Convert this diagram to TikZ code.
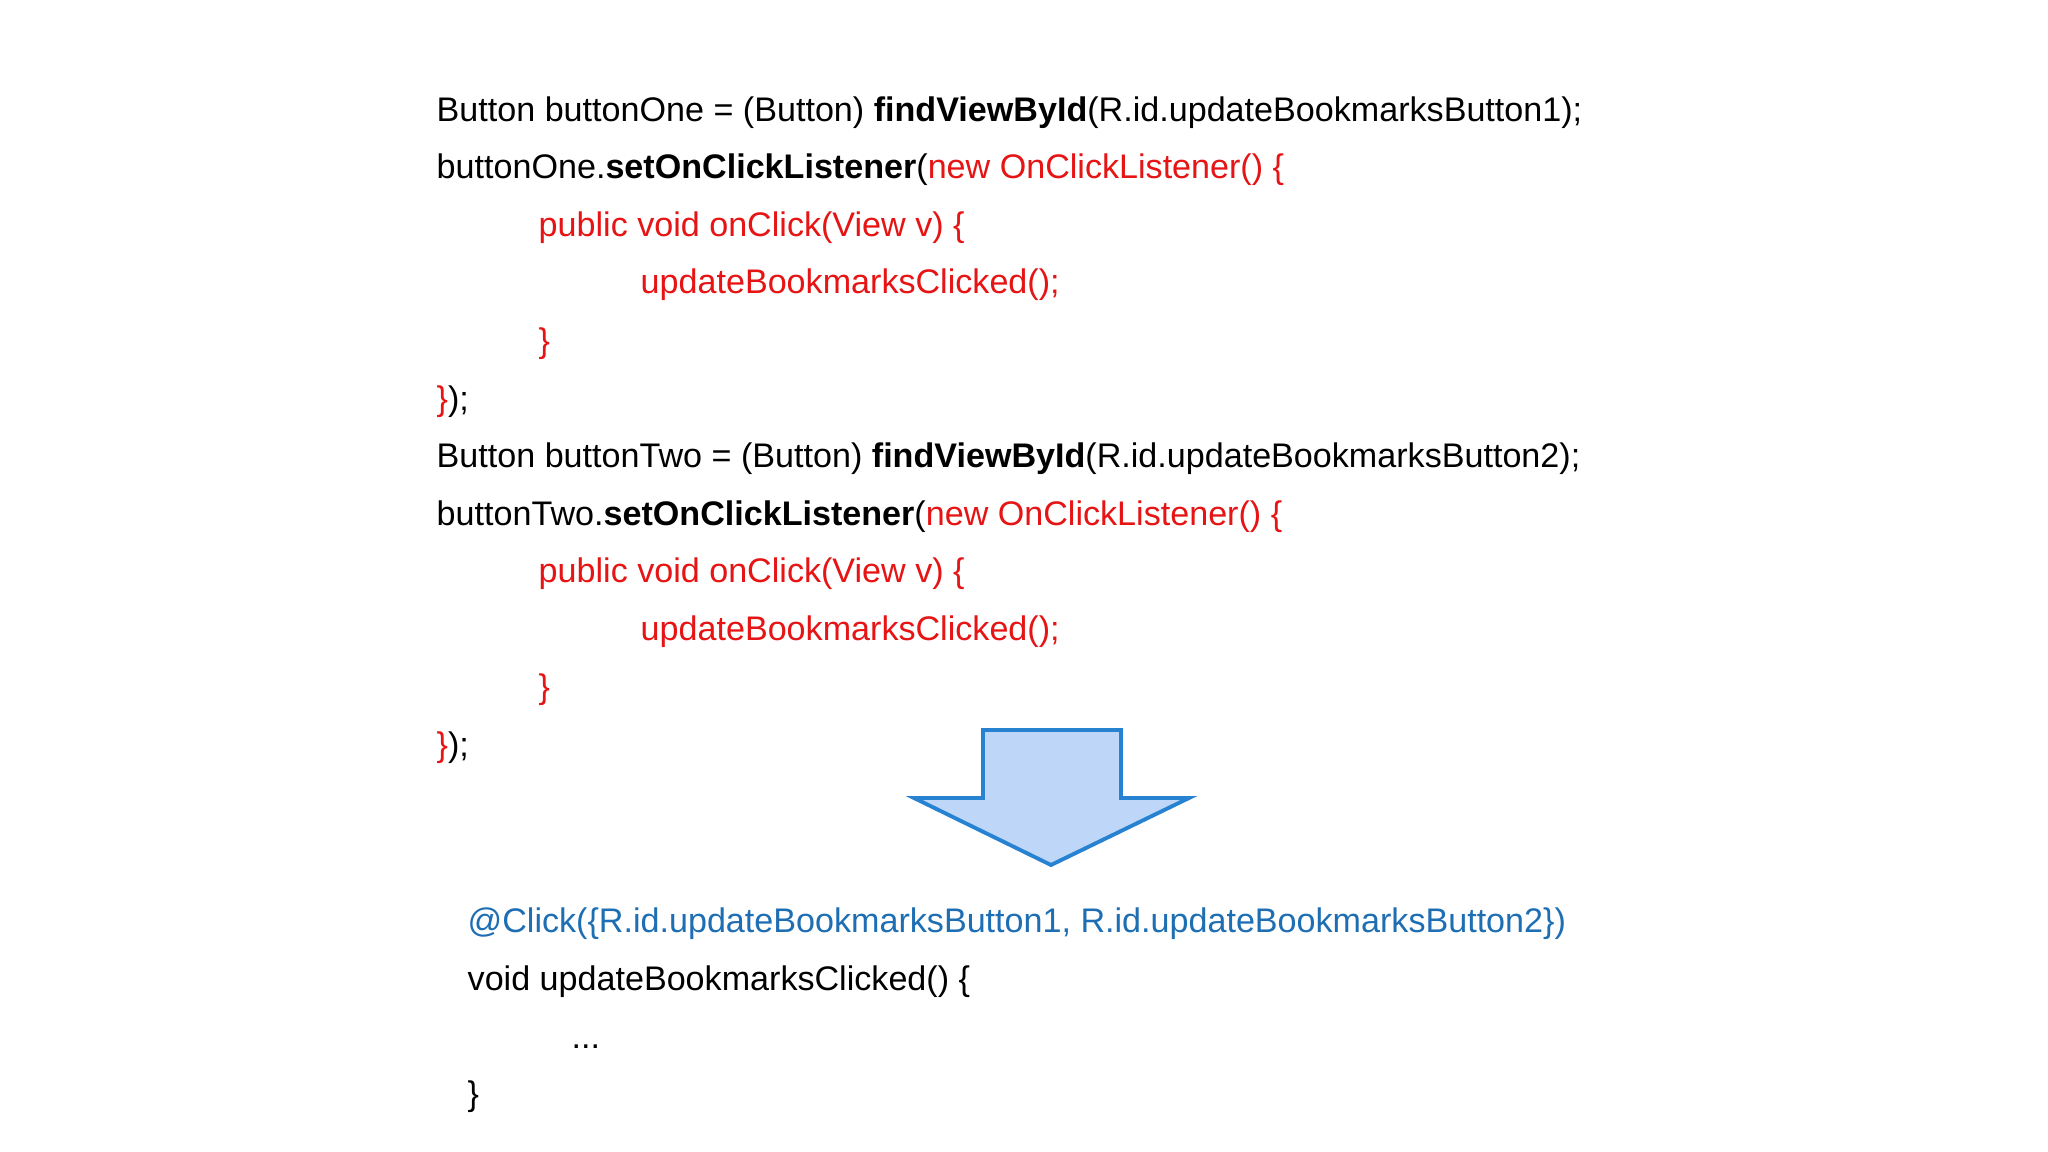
\documentclass[tikz,border=0pt]{standalone}
\usepackage{fontspec}
\setmainfont{Liberation Sans}
\definecolor{cred}{RGB}{230,20,20}
\definecolor{cblue}{RGB}{30,110,180}
\definecolor{afill}{RGB}{190,215,248}
\definecolor{aline}{RGB}{40,130,210}
\tikzset{code/.style={anchor=base west,inner sep=0pt,font=\fontsize{9.7}{11}\selectfont}}
\newcommand{\R}[1]{\textcolor{cred}{#1}}
\begin{document}
\begin{tikzpicture}[x=0.01cm,y=-0.01cm]
\useasboundingbox[fill=white] (0,0) rectangle (2048,1152);
\node[code] (l1) at (436,121.5) {Button buttonOne = (Button) \textbf{findViewById}(R.id.updateBookmarksButton1);};
\node[code] (l2) at (436,178.9) {buttonOne.\textbf{setOnClickListener}(\R{new OnClickListener() \{}};
\node[code] (l3) at (538,236.4) {\R{public void onClick(View v) \{}};
\node[code] (l4) at (640,293.9) {\R{updateBookmarksClicked();}};
\node[code] (l5) at (538,352.6) {\R{\}}};
\node[code] (l6) at (436,410.1) {\R{\}});};
\node[code] (l7) at (436,467.5) {Button buttonTwo = (Button) \textbf{findViewById}(R.id.updateBookmarksButton2);};
\node[code] (l8) at (436,525) {buttonTwo.\textbf{setOnClickListener}(\R{new OnClickListener() \{}};
\node[code] (l9) at (538,582.5) {\R{public void onClick(View v) \{}};
\node[code] (l10) at (640,640) {\R{updateBookmarksClicked();}};
\node[code] (l11) at (538,698.7) {\R{\}}};
\node[code] (l12) at (436,756.2) {\R{\}});};
\draw[aline,fill=afill,line width=1.1pt,line join=miter] (983,730) -- (1121,730) -- (1121,798) -- (1189,798) -- (1051,865) -- (914,798) -- (983,798) -- cycle;
\node[code,text=cblue] (b1) at (467,932.5) {@Click(\{R.id.updateBookmarksButton1, R.id.updateBookmarksButton2\})};
\node[code] (b2) at (467,990) {void updateBookmarksClicked() \{};
\node[code] (b3) at (571,1048) {...};
\node[code] (b4) at (467,1105) {\}};
\end{tikzpicture}
\end{document}
